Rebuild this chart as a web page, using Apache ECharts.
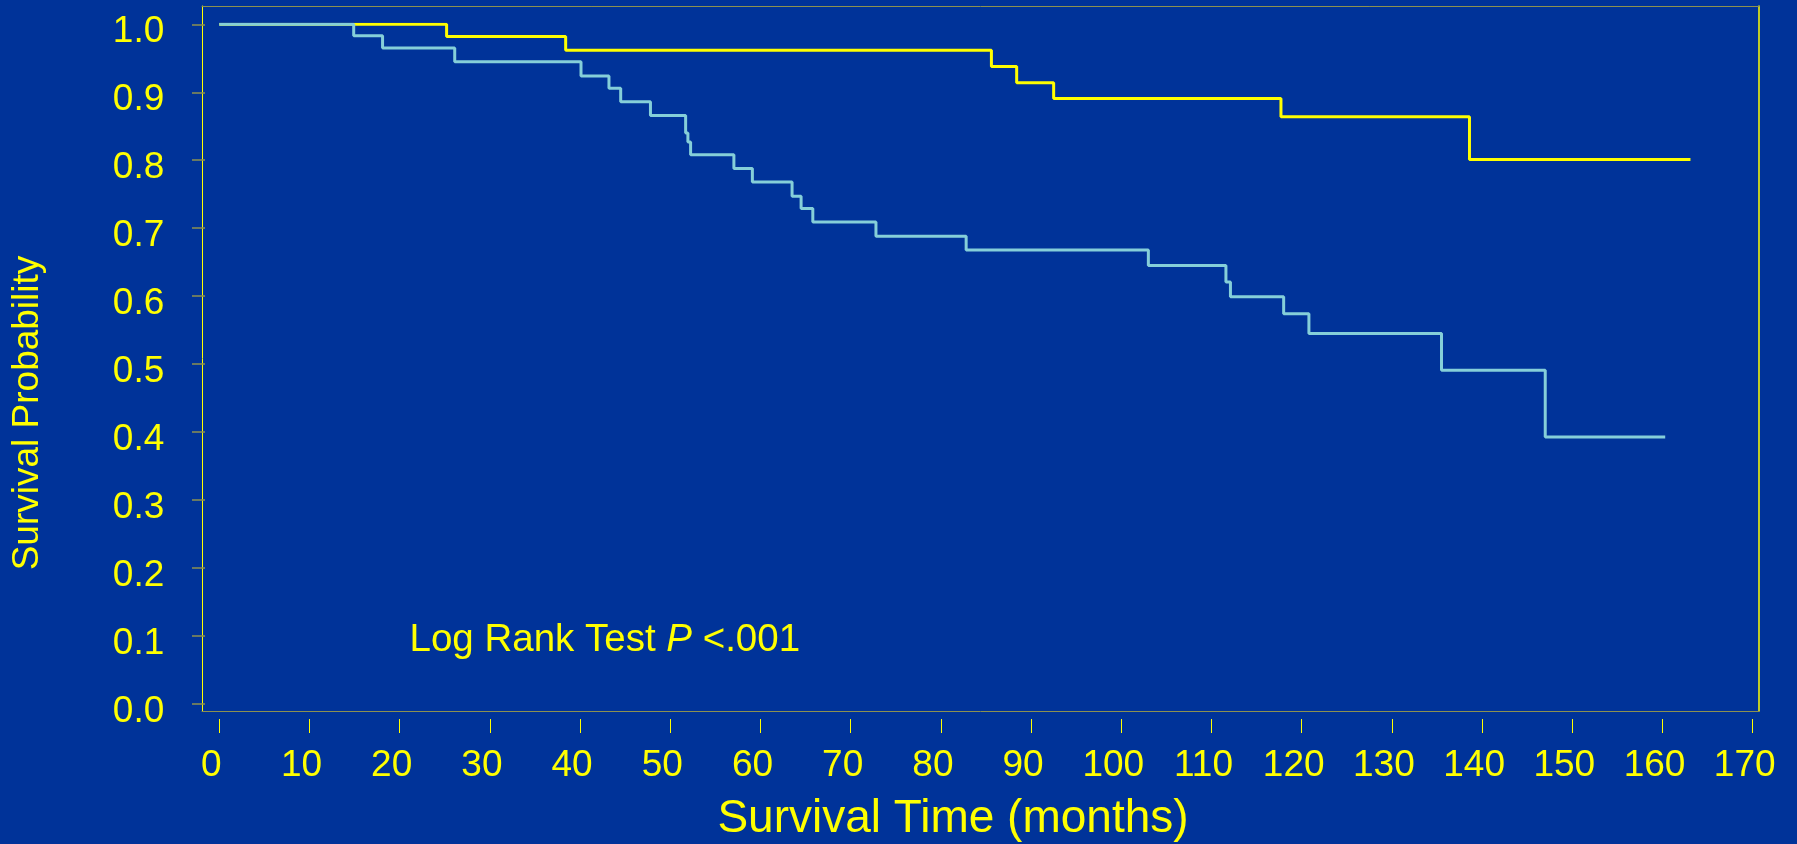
<!DOCTYPE html>
<html>
<head>
<meta charset="utf-8">
<script src="https://cdn.jsdelivr.net/npm/echarts@6/dist/echarts.min.js"></script>
<style>
html,body{margin:0;padding:0;background:#003399;}
#chart{width:1797px;height:844px;}
</style>
</head>
<body>
<div id="chart"></div>
<script>
// ---- data ----
// Yellow group: event times (months) and survival after each step
const yellowTimes = [0, 25.2, 38.4, 85.6, 88.4, 92.5, 117.7, 138.6, 163.1];
const yellowSurv  = [1.0, 0.982, 0.962, 0.938, 0.914, 0.891, 0.864, 0.801, 0.801];
// Cyan group
const cyanTimes = [0, 14.9, 18.1, 26.1, 40.1, 43.2, 44.5, 47.8, 51.7, 51.95, 52.25, 57.05, 59.1, 63.5, 64.5, 65.8, 72.8, 82.8, 103.0, 111.6, 112.1, 118.0, 120.8, 135.5, 147.0, 160.3];
const cyanSurv  = [1.0, 0.983, 0.965, 0.945, 0.924, 0.906, 0.886, 0.866, 0.840, 0.827, 0.808, 0.788, 0.768, 0.747, 0.729, 0.709, 0.688, 0.668, 0.645, 0.621, 0.599, 0.574, 0.545, 0.491, 0.393, 0.393];
// ticks
const xTickMin = 0, xTickMax = 170, xTickStep = 10;
const yTickMin = 0, yTickMax = 1, yTickStep = 0.1;
const xTitle = 'Survival Time (months)';
const yTitle = 'Survival Probability';
const noteParts = ['Log Rank Test ', 'P', ' <.001'];

// ---- chart ----
const FONT = '"Liberation Sans", Arial, Helvetica, sans-serif';
const YEL = '#ffff00';
const OLIVE = '#8c9150';
const pairs = (ts, ss) => ts.map((t, i) => [t, ss[i]]);

const chart = echarts.init(document.getElementById('chart'), null, {renderer: 'canvas'});
const frameAxis = (extra) => Object.assign({
  type: 'value', min: 0, max: 1, axisTick: {show: false}, axisLabel: {show: false},
  splitLine: {show: false}
}, extra);

chart.setOption({
  backgroundColor: '#003399',
  animation: false,
  grid: [
    {left: 202, top: 6, width: 1557, height: 705, show: false},          // frame
    {left: 219.3, top: 24.3, width: 1533.4, height: 679.7, show: false}, // data / ticks
    {left: 211.3, top: 31.8, width: 1533.4, height: 679.7, show: false}  // tick labels
  ],
  xAxis: [
    frameAxis({gridIndex: 0, position: 'bottom', axisLine: {show: true, onZero: false, lineStyle: {color: OLIVE, width: 1}}}),
    frameAxis({gridIndex: 0, position: 'top', axisLine: {show: true, onZero: false, lineStyle: {color: OLIVE, width: 1}}}),
    {
      gridIndex: 1, type: 'value', min: xTickMin, max: xTickMax, interval: xTickStep,
      position: 'bottom', offset: 15,
      axisLine: {show: false, onZero: false},
      axisTick: {show: true, length: 14, lineStyle: {color: YEL, width: 1}},
      axisLabel: {show: false}, splitLine: {show: false}
    },
    {
      gridIndex: 2, type: 'value', min: xTickMin, max: xTickMax, interval: xTickStep,
      position: 'bottom',
      axisLine: {show: false, onZero: false}, axisTick: {show: false},
      axisLabel: {show: true, color: YEL, fontSize: 37, fontFamily: FONT, margin: 36},
      splitLine: {show: false}
    }
  ],
  yAxis: [
    frameAxis({gridIndex: 0, position: 'left', axisLine: {show: true, onZero: false, lineStyle: {color: YEL, width: 1}}}),
    frameAxis({gridIndex: 0, position: 'right', axisLine: {show: true, onZero: false, lineStyle: {color: YEL, width: 1.5}}}),
    {
      gridIndex: 1, type: 'value', min: yTickMin, max: yTickMax, interval: yTickStep,
      position: 'left', offset: 14.3,
      axisLine: {show: false, onZero: false},
      axisTick: {show: true, length: 13, lineStyle: {color: OLIVE, width: 1.5}},
      axisLabel: {show: false}, splitLine: {show: false}
    },
    {
      gridIndex: 2, type: 'value', min: yTickMin, max: yTickMax, interval: yTickStep,
      position: 'left',
      axisLine: {show: false, onZero: false}, axisTick: {show: false},
      axisLabel: {show: true, color: YEL, fontSize: 37, fontFamily: FONT, margin: 47,
        formatter: v => v.toFixed(1)},
      splitLine: {show: false}
    }
  ],
  series: [
    {
      name: 'Yellow group', type: 'line', xAxisIndex: 2, yAxisIndex: 2, step: 'end',
      symbol: 'none', showSymbol: false, data: pairs(yellowTimes, yellowSurv),
      lineStyle: {color: YEL, width: 3}, z: 3
    },
    {
      name: 'Cyan group', type: 'line', xAxisIndex: 2, yAxisIndex: 2, step: 'end',
      symbol: 'none', showSymbol: false, data: pairs(cyanTimes, cyanSurv),
      lineStyle: {color: '#85cfd9', width: 3}, z: 4
    }
  ],
  graphic: [
    {
      type: 'text', x: 953, y: 819,
      style: {text: xTitle, fill: YEL, font: '46px ' + FONT, textAlign: 'center', textVerticalAlign: 'middle'}
    },
    {
      type: 'text', x: 28, y: 413, rotation: Math.PI / 2,
      style: {text: yTitle, fill: YEL, font: '37px ' + FONT, textAlign: 'center', textVerticalAlign: 'middle'}
    },
    {
      type: 'text', x: 409.5, y: 640,
      style: {
        text: '{a|' + noteParts[0] + '}{b|' + noteParts[1] + '}{a|' + noteParts[2] + '}',
        textAlign: 'left', textVerticalAlign: 'middle',
        rich: {
          a: {fill: YEL, fontSize: 38.5, fontFamily: FONT},
          b: {fill: YEL, fontSize: 38.5, fontFamily: FONT, fontStyle: 'italic'}
        }
      }
    }
  ]
});
</script>
</body>
</html>
